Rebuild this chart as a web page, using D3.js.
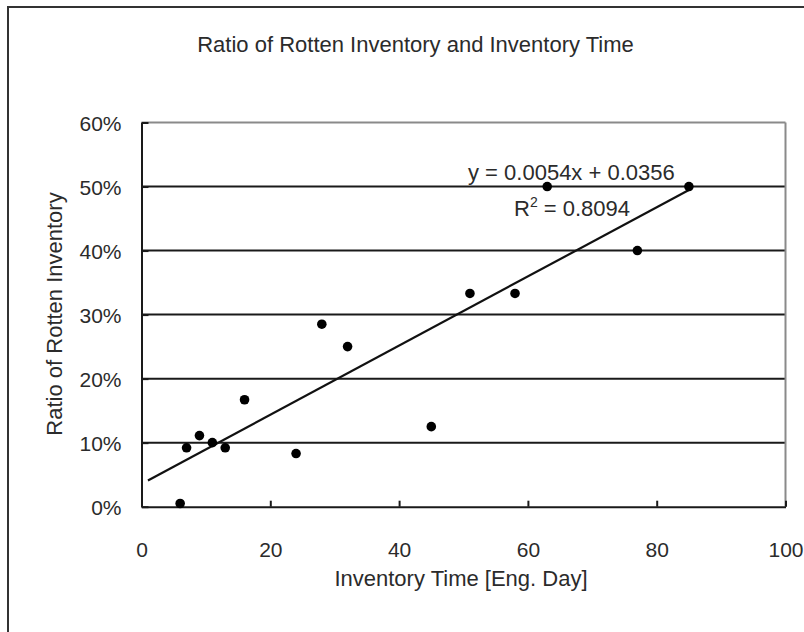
<!DOCTYPE html>
<html>
<head>
<meta charset="utf-8">
<script src="https://cdn.jsdelivr.net/npm/d3@7"></script>
<style>
  html, body { margin: 0; padding: 0; background: #fff; }
  svg { display: block; font-family: "Liberation Sans", Arial, sans-serif; }
</style>
</head>
<body>
<svg id="chart" width="804" height="632"></svg>
<script>
// ---- data ----
const inventoryDays = [6, 7, 9, 11, 13, 16, 24, 28, 32, 45, 51, 58, 63, 77, 85];
const rottenRatio   = [0.005, 0.092, 0.111, 0.100, 0.092, 0.167, 0.083, 0.285, 0.25, 0.125, 0.333, 0.333, 0.50, 0.40, 0.50];
const trendCoef = [0.0054, 0.0356];   // slope, intercept
const trendRange = [1, 85];
const xTicks = [0, 20, 40, 60, 80, 100];
const yTicks = [0, 0.1, 0.2, 0.3, 0.4, 0.5, 0.6];
const titleText = "Ratio of Rotten Inventory and Inventory Time";
const xLabel = "Inventory Time [Eng. Day]";
const yLabel = "Ratio of Rotten Inventory";
const eqText = "y = 0.0054x + 0.0356";
const r2Value = "0.8094";

// ---- layout ----
const svg = d3.select("#chart");
const L = 141.5, R = 785.5, T = 122.5, B = 506.7;
const x = d3.scaleLinear().domain([0, 100]).range([L, R]);
const y = d3.scaleLinear().domain([0, 0.6]).range([B, T]);
const txt = "#2b2b2b";

// outer frame (cropped on right/bottom)
svg.append("rect").attr("x", 8).attr("y", 7).attr("width", 820).attr("height", 650)
  .attr("fill", "#fff").attr("stroke", "#333").attr("stroke-width", 2);

// title
svg.append("text").attr("x", 415.5).attr("y", 52).attr("text-anchor", "middle")
  .attr("font-size", 22).attr("fill", txt).text(titleText);

// gridlines
svg.append("g").selectAll("line").data(yTicks.filter(d => d > 0 && d < 0.6)).join("line")
  .attr("x1", L).attr("x2", R).attr("y1", d => y(d)).attr("y2", d => y(d))
  .attr("stroke", "#1a1a1a").attr("stroke-width", 2);
// top and right border of plot area
svg.append("line").attr("x1", L).attr("x2", R).attr("y1", y(0.6)).attr("y2", y(0.6))
  .attr("stroke", "#8a8a8a").attr("stroke-width", 2);
svg.append("line").attr("x1", R).attr("x2", R).attr("y1", T).attr("y2", B)
  .attr("stroke", "#8a8a8a").attr("stroke-width", 2);

// axes
const xAxis = svg.append("g").attr("transform", `translate(0,${B})`)
  .call(d3.axisBottom(x).tickValues(xTicks).tickSizeInner(-6).tickSizeOuter(0).tickPadding(35).tickFormat(d3.format("d")));
const yAxis = svg.append("g").attr("transform", `translate(${L},0)`)
  .call(d3.axisLeft(y).tickValues(yTicks).tickSizeInner(-7).tickSizeOuter(0).tickPadding(20).tickFormat(d3.format(".0%")));
[xAxis, yAxis].forEach(g => {
  g.select(".domain").attr("stroke", "#1a1a1a").attr("stroke-width", 2);
  g.selectAll(".tick line").attr("stroke", "#1a1a1a").attr("stroke-width", 2);
  g.selectAll(".tick text").attr("font-size", 21).attr("fill", txt)
    .attr("font-family", '"Liberation Sans", Arial, sans-serif');
});
yAxis.selectAll(".tick text").attr("dy", "0.36em");

// axis labels
svg.append("text").attr("x", 461).attr("y", 586).attr("text-anchor", "middle")
  .attr("font-size", 22).attr("fill", txt).text(xLabel);
svg.append("text").attr("transform", "translate(62,314) rotate(-90)").attr("text-anchor", "middle")
  .attr("font-size", 22).attr("fill", txt).text(yLabel);

// trendline
const trend = trendRange.map(v => [v, trendCoef[0] * v + trendCoef[1]]);
svg.append("path").datum(trend)
  .attr("d", d3.line().x(d => x(d[0])).y(d => y(d[1])))
  .attr("stroke", "#111").attr("stroke-width", 2.2).attr("fill", "none");

// points
svg.append("g").selectAll("circle").data(inventoryDays.map((d, i) => [d, rottenRatio[i]])).join("circle")
  .attr("cx", d => x(d[0])).attr("cy", d => y(d[1])).attr("r", 4.8).attr("fill", "#000");

// equation
svg.append("text").attr("x", 468).attr("y", 180).attr("font-size", 22).attr("fill", txt).text(eqText);
const r2 = svg.append("text").attr("x", 514).attr("y", 216).attr("font-size", 22).attr("fill", txt);
r2.append("tspan").text("R");
r2.append("tspan").attr("font-size", 14).attr("dy", -9).text("2");
r2.append("tspan").attr("dy", 9).text(" = " + r2Value);
</script>
</body>
</html>
